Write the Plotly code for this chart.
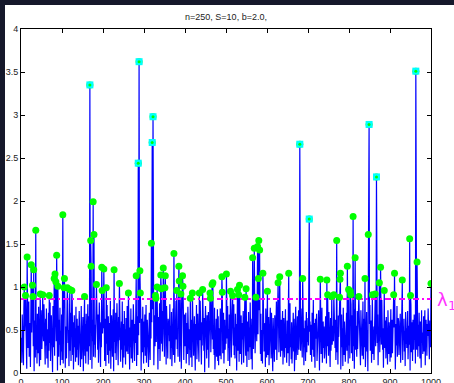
import plotly.graph_objects as go

# Background correlation magnitudes, one value per index 1..1000 (all below the threshold)
noise = [
    .41,.12,.68,.33,.57,.09,.74,.25,.49,.81,.16,.62,.38,.05,.53,.71,.29,.44,.83,.19,
    .36,.58,.07,.66,.24,.47,.79,.13,.55,.31,.72,.02,.61,.39,.18,.84,.27,.50,.11,.69,
    .45,.23,.77,.34,.08,.59,.42,.15,.73,.52,.28,.65,.04,.48,.37,.80,.21,.56,.10,.63,
    .32,.75,.17,.51,.43,.06,.70,.26,.60,.35,.82,.14,.46,.67,.22,.54,.01,.78,.30,.40,
    .64,.20,.53,.85,.12,.37,.58,.27,.03,.71,.44,.19,.62,.33,.76,.09,.49,.25,.68,.15,
    .57,.38,.11,.73,.46,.29,.81,.06,.54,.40,.17,.66,.23,.79,.35,.50,.08,.61,.42,.26,
    .70,.14,.48,.32,.84,.21,.59,.04,.45,.67,.30,.52,.13,.77,.39,.18,.63,.27,.55,.09,
    .43,.72,.24,.60,.07,.36,.78,.16,.51,.34,.65,.02,.47,.28,.83,.20,.57,.11,.69,.38,
    .25,.53,.80,.10,.41,.66,.31,.48,.15,.74,.22,.58,.05,.62,.37,.45,.19,.71,.33,.56,
    .18,.61,.35,.03,.77,.44,.27,.68,.12,.50,.82,.24,.39,.07,.59,.30,.73,.16,.46,.64,
    .52,.29,.71,.14,.40,.63,.08,.55,.34,.79,.21,.47,.66,.11,.37,.58,.26,.84,.05,.43,
    .67,.31,.19,.56,.74,.02,.49,.36,.61,.23,.70,.15,.42,.81,.28,.54,.09,.65,.38,.20,
    .47,.76,.13,.35,.60,.27,.83,.06,.44,.57,.18,.72,.32,.51,.10,.64,.40,.25,.78,.33,
    .22,.59,.42,.69,.04,.53,.30,.75,.17,.46,.62,.12,.39,.80,.26,.48,.14,.57,.35,.71,
    .55,.08,.66,.37,.21,.82,.44,.16,.58,.29,.50,.73,.03,.41,.63,.24,.77,.34,.11,.60,
    .30,.68,.20,.49,.79,.12,.38,.62,.27,.54,.07,.45,.70,.33,.15,.85,.40,.22,.59,.48,
    .74,.26,.53,.09,.43,.67,.31,.18,.76,.36,.61,.23,.51,.04,.65,.28,.47,.81,.14,.39,
    .13,.57,.34,.72,.25,.46,.02,.64,.41,.19,.69,.35,.56,.10,.78,.30,.52,.17,.63,.44,
    .61,.37,.80,.16,.55,.29,.71,.08,.48,.33,.75,.21,.42,.66,.12,.58,.26,.84,.39,.06,
    .28,.50,.19,.65,.40,.83,.13,.54,.32,.70,.05,.47,.60,.24,.37,.73,.15,.52,.68,.31,
    .45,.70,.11,.38,.58,.22,.77,.34,.63,.09,.51,.27,.82,.18,.43,.62,.07,.55,.36,.74,
    .20,.48,.66,.29,.03,.57,.41,.79,.16,.35,.69,.25,.49,.13,.61,.38,.84,.23,.46,.10,
    .59,.32,.15,.72,.44,.26,.64,.01,.53,.78,.30,.40,.17,.67,.27,.50,.71,.06,.42,.56,
    .35,.81,.24,.47,.68,.12,.39,.60,.28,.54,.21,.76,.04,.45,.33,.63,.19,.58,.74,.14,
    .66,.09,.52,.37,.20,.75,.43,.16,.57,.31,.85,.23,.48,.70,.11,.39,.62,.27,.55,.34,
    .24,.62,.40,.78,.14,.51,.29,.68,.08,.46,.36,.73,.18,.59,.42,.05,.65,.32,.80,.21,
    .53,.17,.69,.31,.57,.03,.45,.83,.26,.38,.61,.13,.50,.74,.22,.47,.67,.10,.36,.58,
    .39,.72,.12,.55,.26,.64,.49,.20,.77,.33,.07,.60,.41,.25,.71,.15,.53,.30,.82,.44,
    .16,.47,.63,.04,.42,.79,.28,.57,.35,.68,.23,.51,.12,.66,.37,.84,.19,.45,.61,.27,
    .73,.30,.56,.22,.69,.14,.50,.38,.11,.62,.46,.80,.25,.34,.58,.07,.75,.40,.18,.54,
    .48,.21,.37,.65,.09,.59,.32,.76,.43,.17,.70,.28,.52,.02,.64,.36,.47,.13,.67,.31,
    .27,.60,.83,.15,.51,.40,.06,.68,.24,.55,.33,.78,.19,.44,.62,.26,.57,.72,.10,.39,
    .64,.35,.18,.53,.74,.29,.45,.12,.61,.38,.23,.69,.47,.08,.56,.81,.30,.42,.16,.59,
    .11,.54,.41,.70,.25,.63,.02,.49,.34,.77,.15,.58,.37,.66,.21,.50,.73,.27,.44,.05,
    .57,.26,.75,.33,.46,.18,.67,.39,.82,.09,.52,.30,.61,.14,.43,.71,.24,.55,.36,.64,
    .32,.79,.08,.48,.60,.21,.42,.56,.13,.70,.27,.45,.85,.19,.58,.34,.06,.63,.40,.51,
    .69,.14,.44,.28,.57,.73,.35,.03,.52,.41,.65,.22,.38,.76,.12,.47,.60,.29,.54,.17,
    .23,.50,.66,.40,.11,.59,.31,.78,.46,.20,.71,.36,.53,.07,.64,.26,.43,.81,.33,.48,
    .55,.37,.19,.72,.45,.29,.62,.15,.39,.84,.24,.51,.10,.67,.42,.58,.18,.35,.74,.04,
    .41,.68,.30,.52,.08,.76,.47,.21,.60,.34,.13,.57,.44,.70,.26,.39,.65,.11,.49,.32,
    .62,.17,.56,.38,.80,.23,.43,.67,.14,.53,.31,.74,.05,.46,.61,.27,.55,.36,.19,.72,
    .28,.59,.45,.12,.66,.35,.54,.09,.73,.40,.58,.20,.48,.83,.16,.42,.63,.30,.51,.07,
    .47,.33,.71,.25,.50,.02,.64,.39,.18,.57,.79,.26,.44,.61,.12,.36,.69,.22,.54,.41,
    .15,.63,.40,.77,.31,.48,.20,.58,.35,.68,.09,.52,.37,.75,.24,.46,.14,.60,.33,.85,
    .56,.27,.52,.06,.44,.70,.29,.61,.42,.17,.65,.34,.55,.10,.73,.38,.22,.59,.47,.13,
    .36,.74,.18,.49,.62,.23,.40,.81,.30,.53,.26,.67,.04,.45,.57,.32,.78,.19,.50,.64,
    .60,.21,.46,.35,.69,.12,.57,.28,.76,.43,.15,.54,.38,.63,.25,.49,.08,.71,.34,.52,
    .29,.58,.72,.16,.41,.55,.33,.66,.03,.48,.80,.24,.59,.37,.14,.62,.45,.27,.68,.39,
    .53,.11,.37,.64,.27,.79,.44,.19,.56,.31,.70,.42,.17,.60,.50,.06,.73,.35,.47,.22,
    .34,.66,.25,.51,.73,.09,.48,.62,.36,.20,.57,.43,.75,.28,.54,.16,.61,.40,.30,.45,
]

# Above-threshold entries (index, value)
peak_idx = [8, 11, 15, 25, 28, 29, 31, 36, 47, 53, 69, 81, 83, 85, 87, 90, 102, 105, 106, 113,
            119, 124, 155, 170, 171, 176, 178, 184, 197, 198, 202, 208, 227, 240, 262, 281, 290, 291, 318, 328,
            329, 332, 341, 342, 347, 351, 352, 373, 380, 385, 386, 390, 394, 395, 413, 418, 435, 443, 461, 462,
            466, 468, 490, 491, 501, 511, 516, 528, 531, 533, 546, 549, 565, 569, 573, 577, 579, 580, 582, 590,
            601, 627, 631, 653, 687, 730, 746, 748, 758, 763, 770, 777, 778, 779, 796, 799, 803, 804, 810, 815,
            824, 839, 847, 857, 864, 874, 877, 886, 909, 911, 930, 948, 950, 966, 1000]
peak_val = [1.00, 0.90, 1.35, 1.26, 1.02, 0.89, 1.20, 1.66, 0.92, 0.91, 0.90, 1.10, 1.15, 1.06, 1.37, 1.01, 1.84, 0.99, 1.10, 0.99,
            0.97, 0.96, 0.89, 1.54, 1.24, 1.99, 1.61, 1.03, 1.23, 0.96, 1.21, 0.99, 1.20, 1.04, 0.93, 1.13, 1.19, 0.93, 1.51, 0.90,
            0.87, 1.00, 1.14, 0.98, 1.22, 0.99, 1.13, 1.39, 0.96, 1.24, 1.07, 0.92, 1.13, 1.01, 0.87, 0.93, 0.93, 0.97, 0.93, 0.87,
            1.03, 1.05, 1.12, 0.94, 1.15, 0.95, 0.90, 0.97, 0.91, 1.02, 0.88, 0.98, 1.34, 1.45, 0.88, 1.47, 1.10, 1.54, 1.43, 1.16,
            0.95, 1.05, 1.12, 1.16, 1.10, 1.09, 1.08, 0.91, 0.89, 0.91, 1.54, 0.88, 1.09, 1.16, 1.24, 0.97, 0.95, 0.91, 1.82, 1.34,
            0.89, 1.10, 1.61, 0.91, 0.92, 1.05, 1.23, 0.96, 0.91, 1.16, 1.08, 1.56, 0.90, 1.29, 1.04]

# True support (S = 10)
spike_idx = [168, 286, 288, 320, 322, 680, 703, 849, 867, 963]
spike_val = [3.35, 2.44, 3.62, 2.68, 2.98, 2.66, 1.79, 2.89, 2.28, 3.51]

lambda1 = 0.86
title_text = "n=250, S=10, b=2.0,"
x_ticks = [0, 100, 200, 300, 400, 500, 600, 700, 800, 900, 1000]
y_ticks = [0, 0.5, 1, 1.5, 2, 2.5, 3, 3.5, 4]
y_labels = ["0", "0.5", "1", "1.5", "2", "2.5", "3", "3.5", "4"]

idx = list(range(1, len(noise) + 1))
signal = list(noise)
for i, v in zip(peak_idx, peak_val):
    signal[i - 1] = v
for i, v in zip(spike_idx, spike_val):
    signal[i - 1] = v

above_x = [i for i, v in zip(idx, signal) if v > lambda1]
above_y = [v for v in signal if v > lambda1]

fig = go.Figure()
fig.add_trace(go.Scatter(x=idx, y=signal, mode="lines",
                         line=dict(color="#0000ff", width=1.2), hoverinfo="skip"))
fig.add_trace(go.Scatter(x=[0, 1000], y=[lambda1, lambda1], mode="lines",
                         line=dict(color="#ff00ff", width=2, dash="6px,3px,2px,3px")))
fig.add_trace(go.Scatter(x=above_x, y=above_y, mode="markers",
                         marker=dict(color="#00ff00", size=7, line=dict(width=0))))
fig.add_trace(go.Scatter(x=spike_idx, y=spike_val, mode="markers",
                         marker=dict(color="#00ffff", symbol="square", size=7, line=dict(width=0))))
fig.add_trace(go.Scatter(x=spike_idx, y=spike_val, mode="markers",
                         marker=dict(color="#00ff00", size=3, line=dict(width=0))))

L, R, T, B = 21, 23, 29, 10
W, H = 454, 383
pw, ph = W - L - R, H - T - B
frame = "#15182b"

axis_common = dict(showgrid=False, zeroline=False, showline=True, linecolor="black",
                   linewidth=1, mirror="ticks", ticks="inside", ticklen=4,
                   tickcolor="black", automargin=False,
                   tickfont=dict(size=9, color="#222222", family="Liberation Sans, Arial"))

fig.update_layout(
    width=W, height=H,
    margin=dict(l=L, r=R, t=T, b=B),
    paper_bgcolor="white", plot_bgcolor="white",
    showlegend=False,
    title=dict(text=title_text, x=(L + pw / 2) / W, xanchor="center",
               y=1 - 17 / H, yanchor="middle", automargin=False,
               font=dict(size=9, color="#222222", family="Liberation Sans, Arial")),
    xaxis=dict(range=[0, 1000], tickvals=x_ticks, **axis_common),
    yaxis=dict(range=[0, 4], tickvals=y_ticks, ticktext=y_labels, **axis_common),
    shapes=[
        dict(type="rect", xref="paper", yref="paper", layer="below",
             x0=-L / pw, x1=1 + R / pw, y0=1 + (T - 5) / ph, y1=1 + T / ph,
             fillcolor=frame, line=dict(width=0)),
        dict(type="rect", xref="paper", yref="paper", layer="below",
             x0=-L / pw, x1=-(L - 5) / pw, y0=-B / ph, y1=1 + T / ph,
             fillcolor=frame, line=dict(width=0)),
    ],
    annotations=[
        dict(text="λ", xref="paper", yref="y", x=1 + 4 / pw, y=lambda1,
             xanchor="left", yanchor="middle", showarrow=False,
             font=dict(size=18, color="#ff33ff", family="DejaVu Sans")),
        dict(text="1", xref="paper", yref="y", x=1 + 15 / pw, y=lambda1 - 0.07,
             xanchor="left", yanchor="middle", showarrow=False,
             font=dict(size=13, color="#ff33ff", family="DejaVu Sans")),
    ],
)

fig.write_html("out.html")
